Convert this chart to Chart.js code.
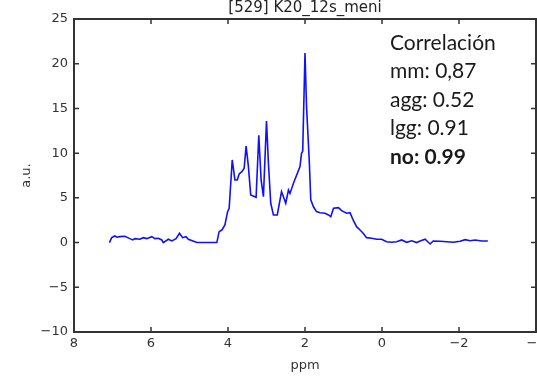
<!DOCTYPE html>
<html>
<head>
<meta charset="utf-8">
<script src="https://cdn.jsdelivr.net/npm/chart.js@4"></script>
<style>
  html, body { margin: 0; padding: 0; background: #ffffff; }
  #wrap { width: 537px; height: 388px; }
</style>
</head>
<body>
<div id="wrap"><canvas id="c" width="537" height="388"></canvas></div>
<script>
// Spectrum trace: chemical shift (ppm) and intensity (a.u.)
const ppm = [
  7.08, 7.02, 6.94, 6.88, 6.81, 6.68, 6.55, 6.47, 6.42, 6.29, 6.20, 6.11, 5.98, 5.90, 5.81,
  5.72, 5.68, 5.55, 5.46, 5.35, 5.26, 5.18, 5.09, 5.03, 4.91, 4.81, 4.29, 4.23, 4.16, 4.08,
  4.01, 3.97, 3.89, 3.82, 3.76, 3.71, 3.64, 3.58, 3.53, 3.47, 3.41, 3.27, 3.20, 3.14, 3.08,
  3.00, 2.95, 2.89, 2.82, 2.72, 2.61, 2.56, 2.50, 2.43, 2.39, 2.30, 2.13, 2.09, 2.06, 2.00,
  1.96, 1.89, 1.85, 1.78, 1.70, 1.61, 1.48, 1.39, 1.33, 1.26, 1.13, 1.05, 0.92, 0.83, 0.75,
  0.66, 0.57, 0.49, 0.40, 0.27, 0.14, 0.01, -0.12, -0.25, -0.38, -0.51, -0.64, -0.77, -0.90,
  -0.99, -1.12, -1.25, -1.33, -1.51, -1.68, -1.85, -2.03, -2.16, -2.29, -2.42, -2.59, -2.75
];
const intensity = [
  0.00, 0.55, 0.74, 0.60, 0.66, 0.70, 0.44, 0.30, 0.44, 0.37, 0.55, 0.44, 0.66, 0.44, 0.48,
  0.29, 0.00, 0.37, 0.18, 0.44, 1.04, 0.55, 0.66, 0.37, 0.18, 0.00, 0.00, 1.22, 1.40, 1.97,
  3.46, 3.84, 9.24, 7.00, 7.00, 7.67, 7.93, 8.31, 10.80, 8.49, 5.32, 5.07, 12.00, 7.00, 5.13,
  13.60, 8.87, 4.40, 3.09, 3.09, 5.69, 5.13, 4.40, 5.88, 5.50, 6.63, 8.49, 9.99, 10.20, 21.20,
  15.20, 9.24, 4.77, 4.00, 3.46, 3.34, 3.28, 3.09, 2.90, 3.84, 3.90, 3.57, 3.28, 3.34, 2.53,
  1.78, 1.41, 1.04, 0.55, 0.48, 0.37, 0.37, 0.10, 0.03, 0.10, 0.29, 0.03, 0.20, 0.00,
  0.18, 0.37, -0.16, 0.18, 0.15, 0.10, 0.03, 0.15, 0.33, 0.20, 0.29, 0.18, 0.18
];

const xTicks = [8, 6, 4, 2, 0, -2, -4];
const yTicks = [25, 20, 15, 10, 5, 0, -5, -10];
const titleText = '[529] K20_12s_meni';
const xLabel = 'ppm';
const yLabel = 'a.u.';
const noteLines = ['Correlación', 'mm: 0,87', 'agg: 0.52', 'lgg: 0.91', 'no: 0.99'];
const noteBold = [false, false, false, false, true];

const axisColor = '#333333';
const tickFont = '13px "DejaVu Sans"';
const fmt = v => (v < 0 ? '\u2212' + Math.abs(v) : String(v));

const points = ppm.map((p, i) => ({ x: p, y: intensity[i] }));

// Frame, inward tick marks, tick labels, axis titles, title and the correlation note
const decor = {
  id: 'decor',
  afterDraw(chart) {
    const { ctx, chartArea: a, scales } = chart;
    const xs = scales.x, ys = scales.y;
    const L = Math.round(a.left), R = Math.round(a.right);
    const T = Math.round(a.top), B = Math.round(a.bottom);
    ctx.save();
    ctx.setLineDash([]);
    ctx.strokeStyle = axisColor;
    ctx.lineWidth = 2;
    ctx.strokeRect(L, T, R - L, B - T);

    ctx.lineWidth = 1.5;
    ctx.beginPath();
    const tl = 5;
    xTicks.forEach(v => {
      const px = xs.getPixelForValue(v);
      ctx.moveTo(px, B); ctx.lineTo(px, B - tl);
      ctx.moveTo(px, T); ctx.lineTo(px, T + tl);
    });
    yTicks.forEach(v => {
      const py = ys.getPixelForValue(v);
      ctx.moveTo(L, py); ctx.lineTo(L + tl, py);
      ctx.moveTo(R, py); ctx.lineTo(R - tl, py);
    });
    ctx.stroke();

    ctx.fillStyle = axisColor;
    ctx.font = tickFont;
    ctx.textAlign = 'center';
    ctx.textBaseline = 'top';
    xTicks.forEach(v => {
      ctx.fillText(fmt(v), xs.getPixelForValue(v), B + 5);
    });
    ctx.fillText(xLabel, (L + R) / 2, B + 27);

    ctx.textAlign = 'right';
    ctx.textBaseline = 'middle';
    yTicks.forEach(v => {
      ctx.fillText(fmt(v), L - 6, ys.getPixelForValue(v));
    });

    ctx.save();
    ctx.translate(27, (T + B) / 2);
    ctx.rotate(-Math.PI / 2);
    ctx.textAlign = 'center';
    ctx.fillText(yLabel, 0, 0);
    ctx.restore();

    ctx.font = '15px "DejaVu Sans"';
    ctx.textAlign = 'center';
    ctx.textBaseline = 'alphabetic';
    ctx.fillStyle = '#222222';
    ctx.fillText(titleText, (L + R) / 2, 12);

    ctx.textAlign = 'left';
    ctx.textBaseline = 'middle';
    ctx.fillStyle = '#1a1a1a';
    noteLines.forEach((t, i) => {
      ctx.font = (noteBold[i] ? 'bold ' : '') + '21px Lato';
      ctx.fillText(t, 390, 43 + i * 28.5);
    });
    ctx.restore();
  }
};

new Chart(document.getElementById('c'), {
  type: 'scatter',
  data: {
    datasets: [{
      data: points,
      showLine: true,
      borderColor: '#1010ff',
      borderWidth: 1.6,
      pointRadius: 0,
      tension: 0
    }]
  },
  options: {
    responsive: false,
    animation: false,
    events: [],
    layout: { padding: { top: 19, right: 1, left: 0, bottom: 0 } },
    plugins: { legend: { display: false }, tooltip: { enabled: false } },
    scales: {
      x: {
        type: 'linear', reverse: true, min: -4, max: 8,
        grid: { display: false, drawTicks: false },
        border: { display: false },
        ticks: { display: false },
        afterFit(s) { s.height = 56; }
      },
      y: {
        type: 'linear', min: -10, max: 25,
        grid: { display: false, drawTicks: false },
        border: { display: false },
        ticks: { display: false },
        afterFit(s) { s.width = 74; }
      }
    }
  },
  plugins: [decor]
});
</script>
</body>
</html>
